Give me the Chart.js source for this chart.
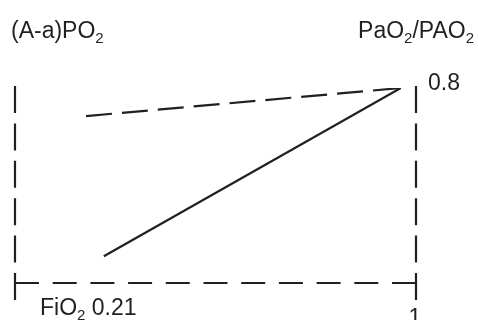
<!DOCTYPE html>
<html lang="en">
<head>
  <meta charset="utf-8" />
  <title>(A-a)PO2 and PaO2/PAO2 vs FiO2</title>
  <script src="https://cdn.jsdelivr.net/npm/chart.js@4.4.1/dist/chart.umd.min.js"></script>
  <style>
    * { box-sizing: border-box; }
    html, body { margin: 0; padding: 0; background: #fff; }
    .chart-wrap { position: relative; width: 478px; height: 320px; }
  </style>
</head>
<body>
  <div class="chart-wrap">
    <canvas id="chart" aria-label="Schematic of (A-a)PO2 and PaO2/PAO2 against FiO2"></canvas>
  </div>
  <script>
    // x axis: FiO2, from room air to pure oxygen
    const fio2Range = [0.21, 1];
    const xTickLabels = ["0.21", "1"];
    // y axis: ratio scale, top mark is 0.8
    const yRange = [0, 0.8];
    const yTickLabels = ["0.8"];

    // dashed line, (A-a)PO2
    const gradientFiO2 = [0.35, 0.97];
    const gradientValues = [0.685, 0.8];
    // solid line, PaO2/PAO2
    const ratioFiO2 = [0.385, 0.97];
    const ratioValues = [0.11, 0.8];

    const INK = "#231f20";
    const FONT = '"Liberation Sans", Arial, Helvetica, sans-serif';

    const toPoints = (xs, ys) => xs.map((x, i) => ({ x, y: ys[i] }));

    // draws text with subscript "2"s
    function drawRich(ctx, parts, x, y, align) {
      const main = "23px " + FONT;
      const sub = "15px " + FONT;
      const widths = parts.map(([t, isSub]) => {
        ctx.font = isSub ? sub : main;
        return ctx.measureText(t).width;
      });
      const total = widths.reduce((a, b) => a + b, 0);
      let cx = align === "right" ? x - total : x;
      parts.forEach(([t, isSub], i) => {
        ctx.font = isSub ? sub : main;
        ctx.fillText(t, cx, isSub ? y + 5 : y);
        cx += widths[i];
      });
    }

    const framePlugin = {
      id: "frame",
      beforeDatasetsDraw(chart) {
        const { ctx } = chart;
        const xs = chart.scales.x;
        const ys = chart.scales.y;
        const left = xs.getPixelForValue(fio2Range[0]);
        const right = xs.getPixelForValue(fio2Range[1]);
        const top = ys.getPixelForValue(yRange[1]);
        const bottom = ys.getPixelForValue(yRange[0]);
        ctx.save();
        ctx.strokeStyle = INK;
        ctx.lineWidth = 2.2;
        ctx.setLineDash([27, 10.4]);
        [left, right].forEach((px) => {
          ctx.beginPath();
          ctx.moveTo(px, top - 2);
          ctx.lineTo(px, bottom + 17);
          ctx.stroke();
        });
        ctx.setLineDash([24, 13.7]);
        ctx.beginPath();
        ctx.moveTo(left, bottom);
        ctx.lineTo(right, bottom);
        ctx.stroke();
        ctx.restore();
      },
      afterDraw(chart) {
        const { ctx } = chart;
        const xs = chart.scales.x;
        const ys = chart.scales.y;
        const left = xs.getPixelForValue(fio2Range[0]);
        const right = xs.getPixelForValue(fio2Range[1]);
        const top = ys.getPixelForValue(yRange[1]);
        const bottom = ys.getPixelForValue(yRange[0]);
        ctx.save();
        ctx.fillStyle = INK;
        ctx.textBaseline = "alphabetic";
        ctx.textAlign = "left";
        drawRich(ctx, [["(A-a)PO", false], ["2", true]], left - 4, 38, "left");
        drawRich(ctx, [["PaO", false], ["2", true], ["/PAO", false], ["2", true]], right + 58, 38, "right");
        drawRich(ctx, [[yTickLabels[0], false]], right + 12, top + 2, "left");
        drawRich(ctx, [["FiO", false], ["2", true], [" " + xTickLabels[0], false]], left + 25, bottom + 32, "left");
        ctx.textAlign = "center";
        ctx.font = "23px " + FONT;
        ctx.fillText(xTickLabels[1], right - 1, bottom + 42);
        ctx.restore();
      },
    };

    new Chart(document.getElementById("chart"), {
      type: "scatter",
      data: {
        datasets: [
          {
            label: "(A-a)PO2",
            data: toPoints(gradientFiO2, gradientValues),
            showLine: true,
            borderColor: INK,
            borderWidth: 2.2,
            borderDash: [26, 10],
            pointRadius: 0,
          },
          {
            label: "PaO2/PAO2",
            data: toPoints(ratioFiO2, ratioValues),
            showLine: true,
            borderColor: INK,
            borderWidth: 2.2,
            pointRadius: 0,
          },
        ],
      },
      plugins: [framePlugin],
      options: {
        responsive: true,
        maintainAspectRatio: false,
        animation: false,
        layout: { padding: { left: 15, right: 62, top: 88, bottom: 37 } },
        plugins: { legend: { display: false }, tooltip: { enabled: false } },
        scales: {
          x: { type: "linear", min: fio2Range[0], max: fio2Range[1], display: false },
          y: { type: "linear", min: yRange[0], max: yRange[1], display: false },
        },
      },
    });
  </script>
</body>
</html>
